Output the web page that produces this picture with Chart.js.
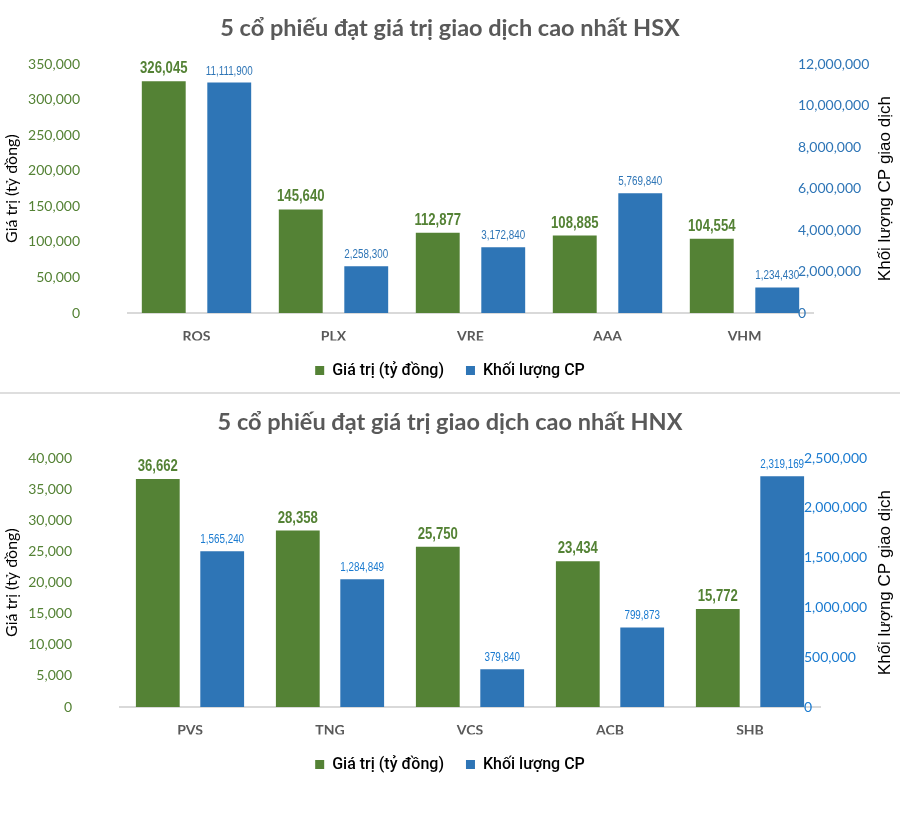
<!DOCTYPE html>
<html lang="vi">
<head>
<meta charset="utf-8">
<title>5 cổ phiếu đạt giá trị giao dịch cao nhất</title>
<script src="https://cdn.jsdelivr.net/npm/chart.js@4.4.1/dist/chart.umd.min.js"></script>
<style>
  html, body { margin: 0; padding: 0; background: #fff; }
  .khung { position: relative; width: 900px; }
  .gach { width: 900px; height: 2px; background: #dedede; }
</style>
</head>
<body>
<div class="khung" style="height:392px"><canvas id="bieuDoHSX" width="900" height="392"></canvas></div>
<div class="gach"></div>
<div class="khung" style="height:422px"><canvas id="bieuDoHNX" width="900" height="422"></canvas></div>

<script>
// Du lieu san HSX
const hsxMaCP = ['ROS', 'PLX', 'VRE', 'AAA', 'VHM'];
const hsxGiaTri = [326045, 145640, 112877, 108885, 104554];
const hsxKhoiLuong = [11111900, 2258300, 3172840, 5769840, 1234430];

// Du lieu san HNX
const hnxMaCP = ['PVS', 'TNG', 'VCS', 'ACB', 'SHB'];
const hnxGiaTri = [36662, 28358, 25750, 23434, 15772];
const hnxKhoiLuong = [1565240, 1284849, 379840, 799873, 2319169];

const XANH_LA = '#548235';
const FONT_ARIAL = '"Liberation Sans", Arial, sans-serif';

function dinhDangSo(v) {
    return Number(v).toLocaleString('en-US');
}

// Plugin ve nhan gia tri tren dau cot (chu hep kieu Arial Narrow)
const nhanDuLieu = {
    id: 'nhanDuLieu',
    afterDatasetsDraw(chart, args, opts) {
        const ctx = chart.ctx;
        chart.data.datasets.forEach((ds, i) => {
            const meta = chart.getDatasetMeta(i);
            meta.data.forEach((bar, j) => {
                ctx.save();
                ctx.translate(bar.x, bar.y - 8);
                ctx.scale(0.82, 1);
                ctx.font = opts.font[i];
                ctx.fillStyle = opts.color[i];
                ctx.textAlign = 'center';
                ctx.textBaseline = 'alphabetic';
                ctx.fillText(dinhDangSo(ds.data[j]), 0, 0);
                ctx.restore();
            });
        });
    }
};

// Plugin ve tieu de truc phai (doc tu duoi len)
const tieuDePhai = {
    id: 'tieuDePhai',
    afterDraw(chart, args, opts) {
        const ctx = chart.ctx;
        const area = chart.chartArea;
        ctx.save();
        ctx.translate(opts.x, (area.top + area.bottom) / 2);
        ctx.rotate(-Math.PI / 2);
        ctx.font = '17px ' + FONT_ARIAL;
        ctx.fillStyle = '#000';
        ctx.textAlign = 'center';
        ctx.textBaseline = 'middle';
        ctx.fillText(opts.text, 0, 0);
        ctx.restore();
    }
};

function taoBieuDo(id, cfg) {
    const ctx = document.getElementById(id).getContext('2d');
    return new Chart(ctx, {
        type: 'bar',
        data: {
            labels: cfg.nhan,
            datasets: [
                {
                    label: 'Giá trị (tỷ đồng)',
                    data: cfg.giaTri,
                    backgroundColor: XANH_LA,
                    borderWidth: 0,
                    yAxisID: 'y',
                    categoryPercentage: cfg.catPct,
                    barPercentage: cfg.barPct
                },
                {
                    label: 'Khối lượng CP',
                    data: cfg.khoiLuong,
                    backgroundColor: '#2E75B6',
                    borderWidth: 0,
                    yAxisID: 'y1',
                    categoryPercentage: cfg.catPct,
                    barPercentage: cfg.barPct
                }
            ]
        },
        options: {
            responsive: false,
            animation: false,
            layout: { padding: { top: 0, left: 0, right: 0, bottom: cfg.padDuoi } },
            scales: {
                x: {
                    grid: { display: false, drawTicks: false },
                    border: { display: true, color: '#d9d9d9', width: 2 },
                    ticks: {
                        color: '#595959',
                        padding: 15,
                        font: { family: 'Lato', size: 14, weight: 'bold' }
                    },
                    afterFit(scale) { scale.height = 27.5; }
                },
                y: {
                    position: 'left',
                    min: 0,
                    max: cfg.maxTrai,
                    grid: { display: false, drawTicks: false },
                    border: { display: false },
                    ticks: {
                        stepSize: cfg.buocTrai,
                        color: XANH_LA,
                        padding: 48,
                        font: { family: 'Lato', size: 14 },
                        callback: v => dinhDangSo(v)
                    },
                    title: {
                        display: true,
                        text: 'Giá trị (tỷ đồng)',
                        color: '#000',
                        padding: { top: 2, bottom: 0 },
                        font: { family: 'Lato', size: 16 }
                    },
                    afterFit(scale) { scale.width = cfg.trai; }
                },
                y1: {
                    position: 'right',
                    min: 0,
                    max: cfg.maxPhai,
                    grid: { display: false, drawTicks: false },
                    border: { display: false },
                    ticks: {
                        stepSize: cfg.buocPhai,
                        color: cfg.mauXanh,
                        padding: cfg.padPhai,
                        font: { family: 'Lato', size: 14 },
                        callback: v => dinhDangSo(v)
                    },
                    afterFit(scale) {
                        scale.width = 900 - cfg.phai;
                        // nhan truc phai nam chen sat vung ve, bo cat vung
                        scale._computeLabelArea = () => undefined;
                    }
                }
            },
            plugins: {
                title: {
                    display: true,
                    text: cfg.tieuDe,
                    color: '#595959',
                    padding: { top: 14, bottom: 22 },
                    font: { family: 'Lato', size: 23.5, weight: 'bold' }
                },
                legend: {
                    position: 'bottom',
                    maxHeight: 45,
                    labels: {
                        boxWidth: 9,
                        boxHeight: 9,
                        padding: 22,
                        color: '#000',
                        font: { family: 'Roboto', size: 16, weight: '500' }
                    }
                },
                tooltip: { enabled: false },
                nhanDuLieu: {
                    font: ['bold 16px ' + FONT_ARIAL, '12px ' + FONT_ARIAL],
                    color: [XANH_LA, cfg.mauXanh]
                },
                tieuDePhai: { text: 'Khối lượng CP giao dịch', x: 885 }
            }
        },
        plugins: [nhanDuLieu, tieuDePhai]
    });
}

taoBieuDo('bieuDoHSX', {
    tieuDe: '5 cổ phiếu đạt giá trị giao dịch cao nhất HSX',
    nhan: hsxMaCP,
    giaTri: hsxGiaTri,
    khoiLuong: hsxKhoiLuong,
    maxTrai: 350000, buocTrai: 50000,
    maxPhai: 12000000, buocPhai: 2000000,
    trai: 128, phai: 813, padPhai: -15,
    catPct: 0.956, barPct: 0.67,
    padDuoi: 6.5,
    mauXanh: '#2E75B6'
});

taoBieuDo('bieuDoHNX', {
    tieuDe: '5 cổ phiếu đạt giá trị giao dịch cao nhất HNX',
    nhan: hnxMaCP,
    giaTri: hnxGiaTri,
    khoiLuong: hnxKhoiLuong,
    maxTrai: 40000, buocTrai: 5000,
    maxPhai: 2500000, buocPhai: 500000,
    trai: 120, phai: 820, padPhai: -16,
    catPct: 0.92, barPct: 0.68,
    padDuoi: 36.5,
    mauXanh: '#1B7BD0'
});
</script>
</body>
</html>
